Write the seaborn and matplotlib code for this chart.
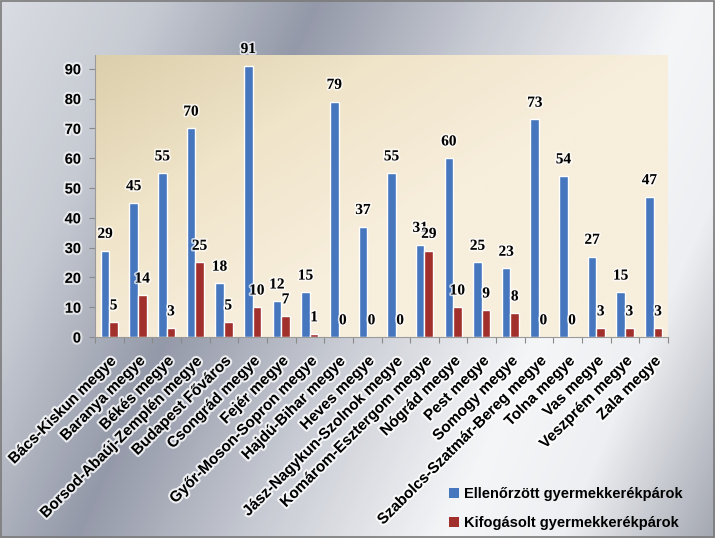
import numpy as np
import pandas as pd
import matplotlib
matplotlib.use("Agg")
import matplotlib.pyplot as plt
import matplotlib.patheffects as pe
from matplotlib.colors import LinearSegmentedColormap
from matplotlib.patches import Rectangle, Patch
import seaborn as sns

counties = ["Bács-Kiskun megye", "Baranya megye", "Békés megye", "Borsod-Abaúj-Zemplén megye",
            "Budapest Főváros", "Csongrád megye", "Fejér megye", "Győr-Moson-Sopron megye",
            "Hajdú-Bihar megye", "Heves megye", "Jász-Nagykun-Szolnok megye", "Komárom-Esztergom megye",
            "Nógrád megye", "Pest megye", "Somogy megye", "Szabolcs-Szatmár-Bereg megye",
            "Tolna megye", "Vas megye", "Veszprém megye", "Zala megye"]
checked = [29, 45, 55, 70, 18, 91, 12, 15, 79, 37, 55, 31, 60, 25, 23, 73, 54, 27, 15, 47]
rejected = [5, 14, 3, 25, 5, 10, 7, 1, 0, 0, 0, 29, 10, 9, 8, 0, 0, 3, 3, 3]
series = ["Ellenőrzött gyermekkerékpárok", "Kifogásolt gyermekkerékpárok"]
yticks = [0, 10, 20, 30, 40, 50, 60, 70, 80, 90]

df = pd.DataFrame({
    "county": counties * 2,
    "value": checked + rejected,
    "series": [series[0]] * len(counties) + [series[1]] * len(counties),
})

BLUE = "#4677be"
RED = "#a12f2c"

sns.set_theme(style="white")
plt.rcParams["font.family"] = ["Liberation Sans", "DejaVu Sans"]

fig = plt.figure(figsize=(7.15, 5.38), dpi=100)

# metallic background
H, W = 538, 715
yy, xx = np.mgrid[0:H, 0:W]
t = (xx + 0.45 * yy) / (W + 0.45 * H)
stops = [(0.0, "#d9dce2"), (0.16, "#c6cad2"), (0.33, "#9499a9"), (0.52, "#c9ccd4"),
         (0.72, "#f5f6f8"), (0.84, "#eeeff2"), (1.0, "#a3a7b1")]
cmap = LinearSegmentedColormap.from_list("metal", stops)
bg = fig.add_axes([0, 0, 1, 1], zorder=-10)
bg.imshow(cmap(t), aspect="auto", extent=[0, 1, 0, 1], origin="upper")
bg.set_xlim(0, 1)
bg.set_ylim(0, 1)
bg.axis("off")
fig.patches.append(Rectangle((0.001, 0.001), 0.998, 0.997, transform=fig.transFigure,
                             fill=False, edgecolor="#7a7a7a", linewidth=1.2, zorder=100))

ax = fig.add_axes([95 / 715, 1 - 337 / 538, (668 - 95) / 715, (337 - 55) / 538], zorder=1)
ax.set_facecolor("none")

# plot area gradient
gy, gx = np.mgrid[0:100, 0:100] / 99.0
gt = np.clip((gx * 0.9 + gy * 0.7) / 0.9, 0, 1)  # gy=0 top
pcmap = LinearSegmentedColormap.from_list("tan", [(0, "#dccfac"), (0.5, "#f0e4c9"), (1, "#f7eedc")])
ax.imshow(pcmap(gt), extent=[0, 1, 0, 1], transform=ax.transAxes, aspect="auto", zorder=0, origin="upper")

sns.barplot(data=df, x="county", y="value", hue="series", palette=[BLUE, RED],
            width=0.6, saturation=1, ax=ax, legend=False, zorder=2)

ax.set_xlim(-0.5, len(counties) - 0.5)
ax.set_ylim(0, 94.6)
ax.set_yticks(yticks)
ax.set_yticklabels([str(v) for v in yticks], fontsize=10.5, fontweight="bold", color="black")
ax.set_xlabel("")
ax.set_ylabel("")

for sp in ["top", "right"]:
    ax.spines[sp].set_visible(False)
ax.spines["left"].set_color("#9a9a9a")
ax.spines["bottom"].set_color("#9a9a9a")
ax.spines["left"].set_linewidth(0.8)
ax.spines["bottom"].set_linewidth(0.8)

ax.tick_params(axis="y", which="both", left=True, length=4, width=0.8, color="#8a8a8a", pad=6)
ax.set_xticks(np.arange(len(counties)))
ax.set_xticks(np.arange(len(counties) + 1) - 0.5, minor=True)
ax.tick_params(axis="x", which="major", bottom=False, length=0, pad=12)
ax.tick_params(axis="x", which="minor", bottom=True, length=4, width=0.8, color="#8a8a8a")
ax.set_xticklabels(counties, rotation=45, ha="right", rotation_mode="anchor",
                   fontsize=11, fontweight="bold", color="black")
for lab in ax.get_xticklabels():
    lab.set_path_effects([pe.withStroke(linewidth=3, foreground="white", alpha=0.8)])
for lab in ax.get_yticklabels():
    lab.set_path_effects([pe.withStroke(linewidth=3, foreground="white", alpha=0.6)])

for cont in ax.containers:
    texts = ax.bar_label(cont, padding=7, fontsize=11, fontweight="bold",
                         family=["Liberation Serif", "DejaVu Serif"], color="black")
    for tx in texts:
        tx.set_path_effects([pe.withStroke(linewidth=2.5, foreground="white", alpha=0.7)])

handles = [Patch(facecolor=BLUE, edgecolor="none"), Patch(facecolor=RED, edgecolor="none")]
leg = fig.legend(handles, series, loc="upper left", bbox_to_anchor=(436 / 715, 1 - 474 / 538),
                 frameon=False, handlelength=0.65, handleheight=0.65, handletextpad=0.35,
                 labelspacing=1.05, prop={"size": 10.5, "weight": "bold"})
for tx in leg.get_texts():
    tx.set_color("black")

fig.savefig("out.png", dpi=100)
